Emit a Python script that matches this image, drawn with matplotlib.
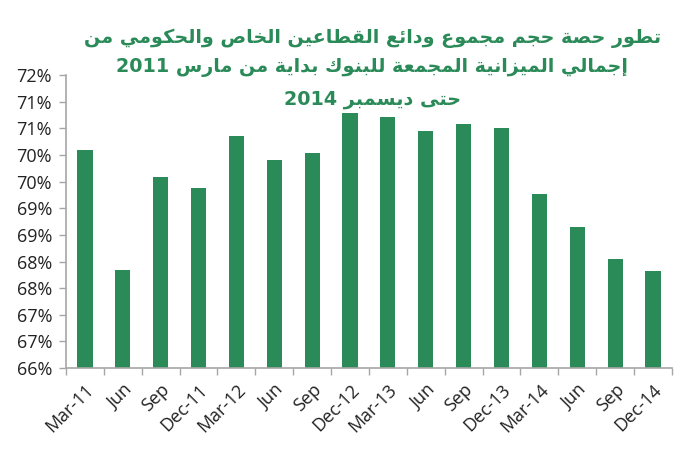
import re
import matplotlib
matplotlib.use("Agg")
import matplotlib.pyplot as plt
import numpy as np
from matplotlib.ticker import FixedLocator, FuncFormatter

# data
categories = ["Mar-11", "Jun", "Sep", "Dec-11", "Mar-12", "Jun", "Sep", "Dec-12",
              "Mar-13", "Jun", "Sep", "Dec-13", "Mar-14", "Jun", "Sep", "Dec-14"]
share_pct = [70.09, 67.84, 69.59, 69.38, 70.36, 69.90, 70.03, 70.78,
             70.71, 70.46, 70.58, 70.50, 69.27, 68.64, 68.04, 67.83]
y_ticks = [66.0, 66.5, 67.0, 67.5, 68.0, 68.5, 69.0, 69.5, 70.0, 70.5, 71.0, 71.5]

title_lines = [
    "تطور حصة حجم مجموع ودائع القطاعين الخاص والحكومي من",
    "إجمالي الميزانية المجمعة للبنوك بداية من مارس 2011",
    "حتى ديسمبر 2014",
]

GREEN = "#2a8a58"
GREY = "#a6a6a6"

#####################
## ARABIC SHAPING  ##
#####################
# matplotlib has no text shaping, so map letters to presentation forms
# (isolated codepoint, number of forms) and lay them out right-to-left
FORMS = {
    "ء": (0xFE80, 1), "آ": (0xFE81, 2), "أ": (0xFE83, 2), "ؤ": (0xFE85, 2),
    "إ": (0xFE87, 2), "ئ": (0xFE89, 4), "ا": (0xFE8D, 2), "ب": (0xFE8F, 4),
    "ة": (0xFE93, 2), "ت": (0xFE95, 4), "ث": (0xFE99, 4), "ج": (0xFE9D, 4),
    "ح": (0xFEA1, 4), "خ": (0xFEA5, 4), "د": (0xFEA9, 2), "ذ": (0xFEAB, 2),
    "ر": (0xFEAD, 2), "ز": (0xFEAF, 2), "س": (0xFEB1, 4), "ش": (0xFEB5, 4),
    "ص": (0xFEB9, 4), "ض": (0xFEBD, 4), "ط": (0xFEC1, 4), "ظ": (0xFEC5, 4),
    "ع": (0xFEC9, 4), "غ": (0xFECD, 4), "ف": (0xFED1, 4), "ق": (0xFED5, 4),
    "ك": (0xFED9, 4), "ل": (0xFEDD, 4), "م": (0xFEE1, 4), "ن": (0xFEE5, 4),
    "ه": (0xFEE9, 4), "و": (0xFEED, 2), "ى": (0xFEEF, 2), "ي": (0xFEF1, 4),
}


def shape_arabic(text):
    out = []
    for i, ch in enumerate(text):
        if ch not in FORMS:
            out.append(ch)
            continue
        base, n = FORMS[ch]
        prev = text[i - 1] if i > 0 else ""
        nxt = text[i + 1] if i + 1 < len(text) else ""
        join_prev = prev in FORMS and FORMS[prev][1] == 4
        join_next = n == 4 and nxt in FORMS and FORMS[nxt][1] >= 2
        if join_prev and join_next:
            cp = base + 3
        elif join_prev and n >= 2:
            cp = base + 1
        elif join_next:
            cp = base + 2
        else:
            cp = base
        out.append(chr(cp))
    visual = "".join(out)[::-1]
    # keep digit runs left-to-right
    return re.sub(r"[0-9]+", lambda m: m.group(0)[::-1], visual)


##################
# GENERATE PLOT  #
##################
plt.rcParams["font.family"] = ["Open Sans", "DejaVu Sans"]

fig = plt.figure(figsize=(6.77, 4.5), dpi=100)
ax = fig.add_axes([0.0975, 0.182, 0.895, 0.651])

x = np.arange(len(categories))
ax.bar(x, share_pct, width=0.4, color=GREEN, bottom=0)

ax.set_xlim(-0.5, len(categories) - 0.5)
ax.set_ylim(66, 71.5)
ax.yaxis.set_major_locator(FixedLocator(y_ticks))
ax.yaxis.set_major_formatter(FuncFormatter(lambda v, p: "%d%%" % int(v + 0.5)))

ax.set_xticks(x)
ax.set_xticklabels(categories, rotation=45, ha="right", rotation_mode="anchor")
ax.set_xticks(np.arange(-0.5, len(categories), 1.0), minor=True)
ax.tick_params(axis="x", which="major", length=0, pad=9, labelsize=13, colors="#222222")
ax.tick_params(axis="x", which="minor", length=5, width=1, color=GREY, direction="out")
ax.tick_params(axis="y", length=5, width=1, color=GREY, labelsize=13,
               labelcolor="#222222", pad=5)

for side in ("top", "right"):
    ax.spines[side].set_visible(False)
for side in ("left", "bottom"):
    ax.spines[side].set_color(GREY)
    ax.spines[side].set_linewidth(1.2)

title_y = [0.915, 0.849, 0.778]
for line, ty in zip(title_lines, title_y):
    fig.text(0.55, ty, shape_arabic(line), ha="center", va="center",
             fontsize=13.8, fontweight="bold", color=GREEN,
             family=["DejaVu Sans"])

plt.savefig("out.png", dpi=100)
